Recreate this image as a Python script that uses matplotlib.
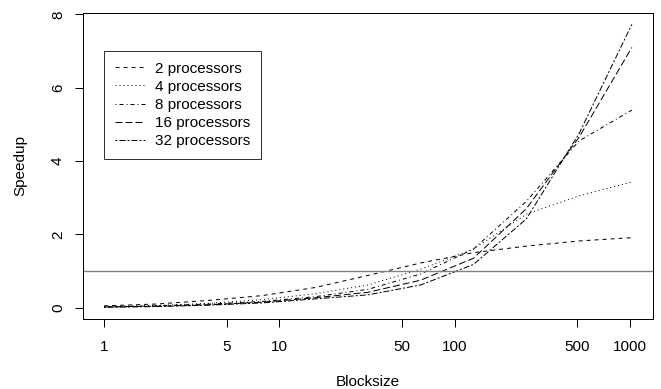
import matplotlib.pyplot as plt
import numpy as np

plt.rcParams['font.family'] = ['Liberation Sans', 'DejaVu Sans']

# data
blocksize = [1, 2, 4, 8, 16, 32, 64, 128, 256, 512, 1024]
p2 = [0.05, 0.10, 0.20, 0.33, 0.55, 0.88, 1.22, 1.50, 1.68, 1.82, 1.91]
p4 = [0.03, 0.06, 0.12, 0.22, 0.38, 0.62, 1.05, 1.60, 2.55, 3.05, 3.43]
p8 = [0.02, 0.05, 0.10, 0.17, 0.30, 0.50, 0.92, 1.60, 2.90, 4.55, 5.39]
p16 = [0.02, 0.04, 0.08, 0.15, 0.27, 0.42, 0.75, 1.35, 2.70, 4.65, 7.10]
p32 = [0.01, 0.03, 0.07, 0.13, 0.24, 0.35, 0.62, 1.18, 2.42, 4.75, 7.73]
labels = ['2 processors', '4 processors', '8 processors',
          '16 processors', '32 processors']
xticks = [1, 5, 10, 50, 100, 500, 1000]
yticks = [0, 2, 4, 6, 8]

# R style line types (in px at lwd 1)
dashes = [(4, 4), (1, 3), (1, 3, 4, 3), (7, 3), (2, 2, 6, 2)]

fs = 11
fig = plt.figure(figsize=(6.61, 3.89), dpi=100)
ax = fig.add_axes([83 / 661, 1 - 319 / 389, 570 / 661, 306 / 389])

lw = 0.72
for y, lab, d in zip([p2, p4, p8, p16, p32], labels, dashes):
    ax.plot(blocksize, y, color='black', lw=lw, dashes=d, label=lab)

ax.axhline(1, color='#808080', lw=1.0)

ax.set_xscale('log')
lx = np.log10(blocksize)
pad = (lx.max() - lx.min()) * 0.04
ax.set_xlim(10 ** (lx.min() - pad), 10 ** (lx.max() + pad))
ymax = max(p32)
ax.set_ylim(-0.04 * ymax, ymax * 1.04)

ax.set_xticks(xticks)
ax.set_xticklabels([str(t) for t in xticks])
ax.xaxis.set_minor_locator(plt.NullLocator())
ax.set_yticks(yticks)
ax.set_yticklabels([str(t) for t in yticks], rotation=90, va='center')

for s in ax.spines.values():
    s.set_linewidth(lw)
ax.tick_params(direction='out', length=5.8, width=lw, labelsize=fs,
               color='black')
ax.tick_params(axis='x', pad=9.4)
ax.tick_params(axis='y', pad=7.2)

ax.set_xlabel('Blocksize', fontsize=fs, labelpad=15)
ax.set_ylabel('Speedup', fontsize=fs, labelpad=17)

leg = ax.legend(loc='upper left', bbox_to_anchor=((104 - 83) / 570, (319 - 51) / 306),
                fontsize=fs, frameon=True, fancybox=False, edgecolor='black',
                handlelength=2.0, handletextpad=0.65, borderpad=0.7,
                labelspacing=0.27, borderaxespad=0)
leg.get_frame().set_linewidth(lw)

fig.savefig('out.png', dpi=100)
